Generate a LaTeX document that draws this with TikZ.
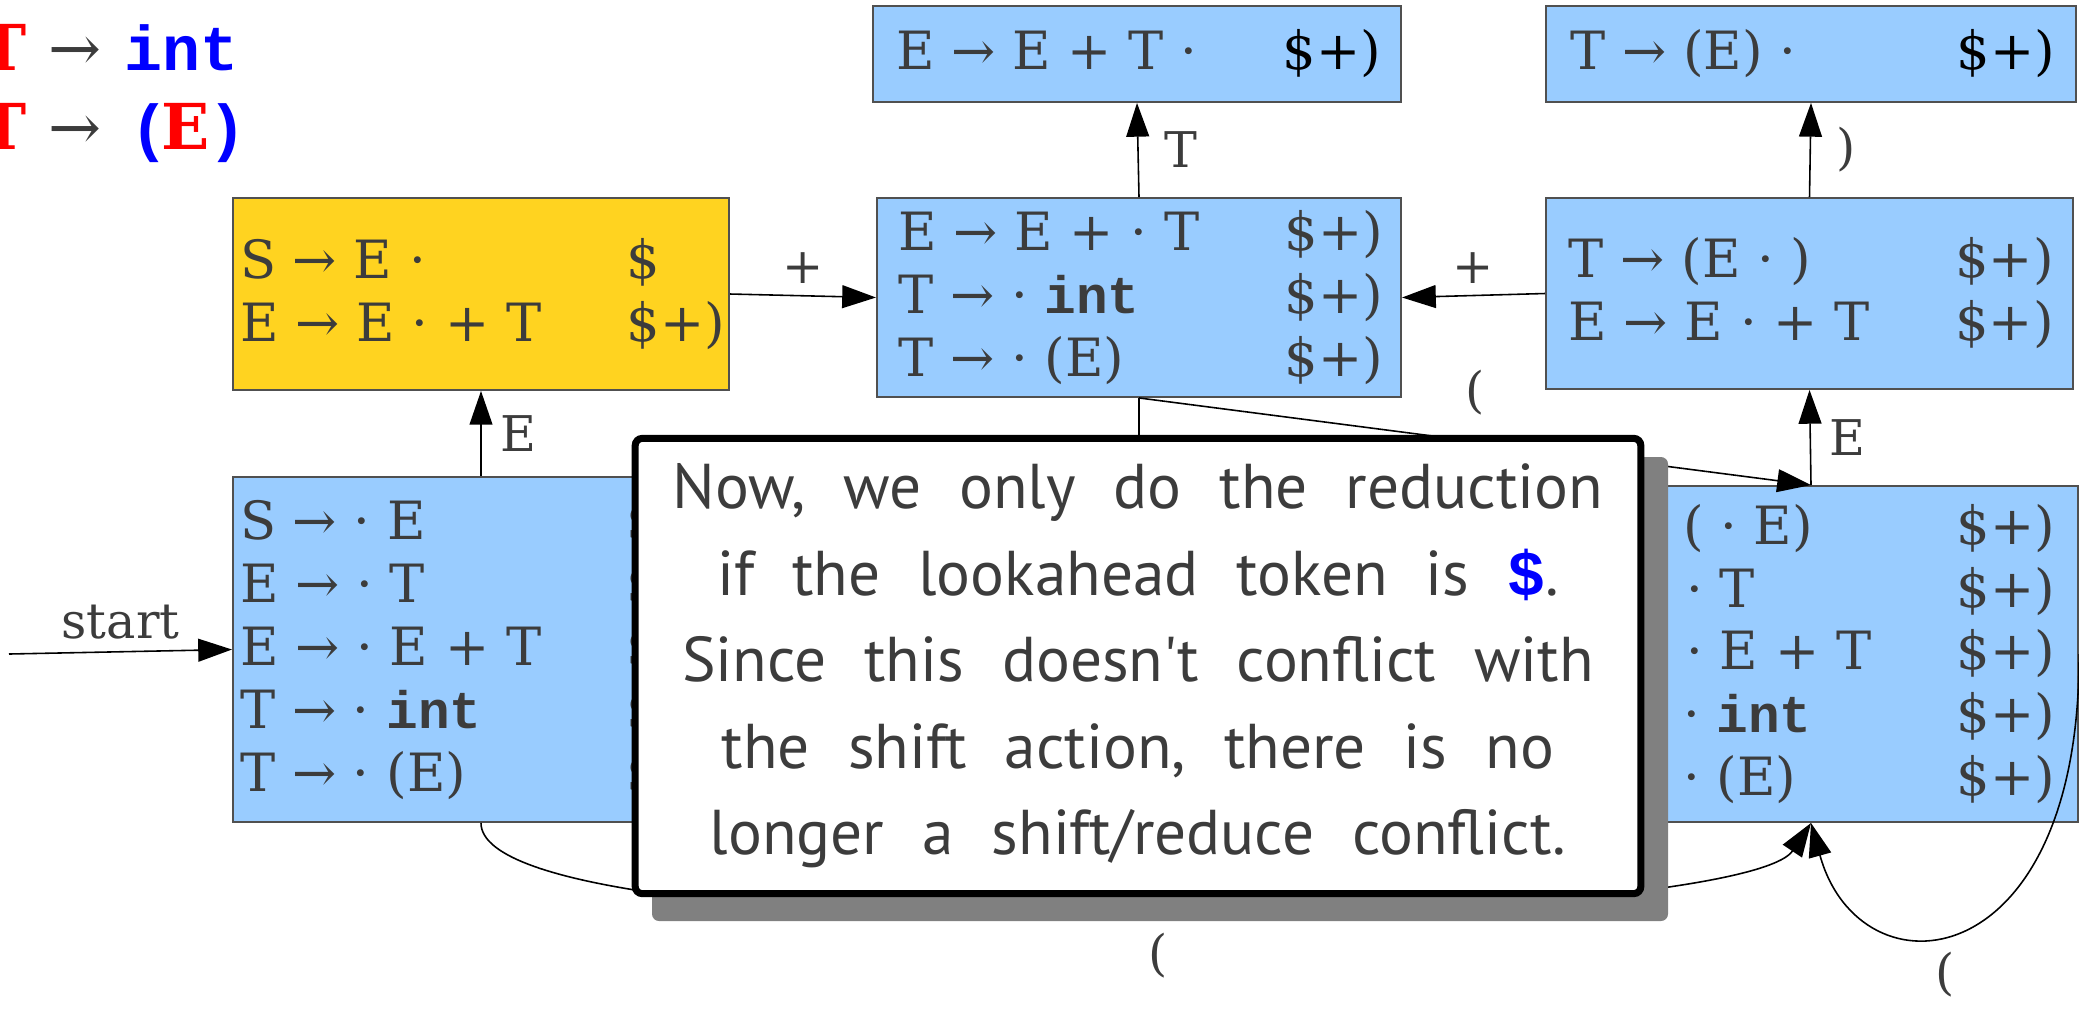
\documentclass[tikz,border=0pt]{standalone}
\usepackage{fontspec}
\setmainfont{DejaVu Serif}
\setmonofont{Liberation Mono}
\newfontfamily\handfont{PT Sans}
\usepackage{tikz}
\usetikzlibrary{arrows.meta}
\definecolor{boxblue}{RGB}{153, 204, 255}
\definecolor{boxgold}{RGB}{255, 211, 32}
\definecolor{inkgray}{RGB}{60, 60, 60}
\definecolor{rimgray}{RGB}{80, 80, 80}
\definecolor{shadowgray}{RGB}{128, 128, 128}
\newcommand{\prodline}[2]{\makebox[110pt][l]{#1}\makebox[27pt][l]{#2}}
\newcommand{\kw}[1]{{\ttfamily\bfseries #1}}
\newcommand{\widespaces}{\spaceskip=10.8pt plus 1pt\relax}

\begin{document}
\begin{tikzpicture}[x=0.01cm, y=-0.01cm, >={Triangle[length=9.6pt, width=6.5pt]},
    state/.style={rectangle, draw=rimgray, line width=0.5pt, fill=boxblue, text=inkgray,
      align=left, inner sep=0pt, font=\fontsize{15pt}{17.9pt}\selectfont},
    trans/.style={->, line width=0.45pt},
    lbl/.style={text=inkgray, font=\fontsize{14pt}{17pt}\selectfont},
    gram/.style={anchor=base west, inner sep=0pt, font=\fontsize{18pt}{20pt}\selectfont\bfseries},
    note/.style={rectangle, draw=black, line width=2pt, fill=white, rounded corners=2pt,
      align=center, text=inkgray, minimum width=10.05cm, minimum height=4.55cm,
      font=\handfont\fontsize{18pt}{24.6pt}\selectfont\widespaces}]
  \useasboundingbox (0,0) rectangle (2079,1011);

  \node[gram, anchor=base east, text=red] (g1T) at (27,70) {T};
  \node[gram, text=inkgray, font=\fontsize{18pt}{20pt}\selectfont] (g1A) at (48,70) {→};
  \node[gram, text=blue] (g1R) at (124,70) {\kw{int}};
  \node[gram, anchor=base east, text=red] (g2T) at (27,149) {T};
  \node[gram, text=inkgray, font=\fontsize{18pt}{20pt}\selectfont] (g2A) at (48,149) {→};
  \node[gram, text=blue] (g2L) at (130,149) {\kw{(}};
  \node[gram, text=red] (g2E) at (161,149) {E};
  \node[gram, text=blue] (g2R) at (208,149) {\kw{)}};

  \node[state, fill=boxgold, minimum width=4.96cm, minimum height=1.92cm] (gotoE) at (481,294)
    {\prodline{S → E ·}{\$}\\ \prodline{E → E · + T}{\$+)}};
  \node[state, minimum width=4.96cm, minimum height=3.45cm] (init) at (481,649.5)
    {\prodline{S → · E}{\$}\\ \prodline{E → · T}{\$+}\\ \prodline{E → · E + T}{\$+}\\
     \prodline{T → · \kw{int}}{\$+}\\ \prodline{T → · (E)}{\$+}};
  \node[state, minimum width=5.28cm, minimum height=0.96cm] (gotoT) at (1137,54)
    {\prodline{E → E + T ·}{\textcolor{black}{\$+)}}};
  \node[state, minimum width=5.3cm, minimum height=0.96cm] (gotoclose) at (1811,54)
    {\prodline{T → (E) ·}{\textcolor{black}{\$+)}}};
  \node[state, minimum width=5.24cm, minimum height=1.99cm] (gotoplus) at (1139,297.5)
    {\prodline{E → E + · T}{\$+)}\\ \prodline{T → · \kw{int}}{\$+)}\\ \prodline{T → · (E)}{\$+)}};
  \node[state, minimum width=5.27cm, minimum height=1.91cm] (gotoopenE) at (1809.5,293.5)
    {\prodline{T → (E · )}{\$+)}\\ \prodline{E → E · + T}{\$+)}};
  \node[state, minimum width=5.34cm, minimum height=3.36cm] (gotoopen) at (1811,654)
    {\prodline{T → ( · E)}{\$+)}\\ \prodline{E → · T}{\$+)}\\ \prodline{E → · E + T}{\$+)}\\
     \prodline{T → · \kw{int}}{\$+)}\\ \prodline{T → · (E)}{\$+)}};

  \coordinate (start) at (9,654);
  \coordinate (hidden) at (1139,600);
  \draw[trans] (start) -- node[lbl, above] (lstart) {start} (init.west);
  \draw[trans] (init.north) -- node[lbl, right=2pt] (lE1) {E} (gotoE.south);
  \draw[trans] (gotoE.east) -- node[lbl, above] (lplus1) {+} (gotoplus.west);
  \draw[trans] (gotoplus.north) -- node[lbl, right=4pt] (lT) {T} (gotoT.south);
  \draw[trans] (gotoopenE.west) -- node[lbl, above] (lplus2) {+} (gotoplus.east);
  \draw[trans] (gotoopenE.north) -- node[lbl, right=4pt] (lclose) {)} (gotoclose.south);
  \draw[trans] (gotoopen.north) -- node[lbl, right=2pt] (lE2) {E} (gotoopenE.south);
  \draw[trans] (gotoplus.south) -- node[lbl, above=4pt] (lopen1) {(} (gotoopen.north);
  \draw[line width=0.45pt] (gotoplus.south) -- (hidden);
  \draw[trans] (init.south) .. controls (481,960) and (1740,930) .. node[lbl, below=2pt, pos=0.52] (lopen2) {(} (gotoopen.south);
  \draw[trans] (gotoopen.east) .. controls (2080,980) and (1860,1000) .. node[lbl, below=2pt, pos=0.55] (lopen3) {(} (gotoopen.south);

  \fill[shadowgray, rounded corners=2pt] (652,457) rectangle (1668,921);
  \node[note] (remark) at (1138,666)
    {Now, we only do the reduction\\ if the lookahead token is \textcolor{blue}{\kw{\$}}.\\
     Since this doesn't conflict with\\ the shift action, there is no\\ longer a shift/reduce conflict.};
\end{tikzpicture}
\end{document}
